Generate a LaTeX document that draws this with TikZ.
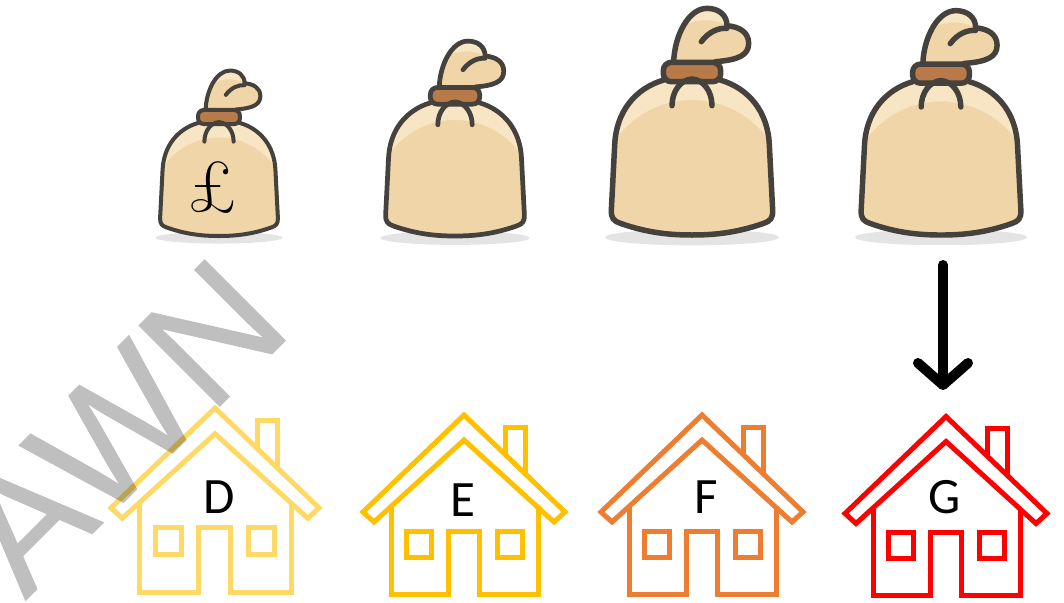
\documentclass[tikz,border=0pt]{standalone}
\usepackage{fontspec}
\setmainfont{Carlito}
\newfontfamily\stampfont[FakeBold=0.6]{Liberation Sans}
\newfontfamily\poundfont{Latin Modern Roman}
\usetikzlibrary{arrows.meta}
\definecolor{bagdark}{HTML}{F0D5A8}
\definecolor{baglight}{HTML}{F7E5C3}
\definecolor{bagedge}{HTML}{45413C}
\definecolor{bagtie}{HTML}{B97A4A}
\definecolor{bagshadow}{HTML}{E4E4E4}
\tikzset{
  bagline/.style={draw=bagedge, line join=round, line cap=round},
  houseline/.style={line width=5pt, line join=miter},
  houselabel/.style={font=\fontsize{51}{51}\selectfont, inner sep=0pt},
}
\newcommand{\moneybag}[3]{
  \begin{scope}[shift={(#1,#2)}, x=#3*0.3333pt, y=#3*0.3333pt, line width=#3*5.5pt]
    \fill[bagshadow] (0,-7) ellipse [x radius=261, y radius=24];
    % body and the pale top of it
    \fill[bagdark] (-85,465) .. controls (-170,440) and (-228,370) .. (-232,270) -- (-242,75)
      .. controls (-243,50) and (-235,42) .. (-215,35) .. controls (-130,5) and (-60,0) .. (0,0)
      .. controls (60,0) and (130,5) .. (215,35) .. controls (235,42) and (243,50) .. (242,75)
      -- (232,270) .. controls (228,370) and (170,440) .. (85,465) -- cycle;
    \fill[baglight] (-85,465) .. controls (-170,440) and (-226,370) .. (-230,285)
      .. controls (-170,370) and (-80,405) .. (0,405) .. controls (80,405) and (170,370) .. (230,285)
      .. controls (226,370) and (170,440) .. (85,465) -- cycle;
    \draw[bagline] (-85,465) .. controls (-170,440) and (-228,370) .. (-232,270) -- (-242,75)
      .. controls (-243,50) and (-235,42) .. (-215,35) .. controls (-130,5) and (-60,0) .. (0,0)
      .. controls (60,0) and (130,5) .. (215,35) .. controls (235,42) and (243,50) .. (242,75)
      -- (232,270) .. controls (228,370) and (170,440) .. (85,465);
    % knot
    \fill[bagdark] (-55,520) .. controls (-52,600) and (-10,680) .. (45,680)
      .. controls (80,680) and (105,660) .. (105,628) .. controls (140,625) and (170,610) .. (170,575)
      .. controls (170,540) and (140,525) .. (70,520) -- cycle;
    \fill[baglight] (-30,625) .. controls (-10,665) and (20,680) .. (45,680)
      .. controls (80,680) and (105,660) .. (105,628) .. controls (70,650) and (10,650) .. (-30,625) -- cycle;
    \draw[bagline] (-55,520) .. controls (-52,600) and (-10,680) .. (45,680)
      .. controls (80,680) and (105,660) .. (105,628) .. controls (140,625) and (170,610) .. (170,575)
      .. controls (170,540) and (140,525) .. (70,520);
    \draw[bagline] (28,580) .. controls (50,610) and (80,622) .. (105,620);
    \draw[bagline, fill=bagtie, rounded corners=#3*8pt] (-86,460) rectangle (86,518);
    \draw[bagline] (-60,388) .. controls (-60,430) and (-35,466) .. (0,468)
      .. controls (35,466) and (60,430) .. (60,388);
  \end{scope}
}
\newcommand{\housemark}[4]{
  \begin{scope}[shift={(#1,#2)}, x=#4*1pt, y=#4*-1pt, draw=#3]
    \draw[houseline] (41,40) -- (41,12) -- (61,12) -- (61,59);
    \draw[houseline] (0,0) -- (-101,97) -- (-90,107) -- (0,25) -- (90,107) -- (101,97) -- cycle;
    \draw[houseline] (-73,91) -- (-73,179) -- (-16,179) -- (-16,116) -- (15,116) -- (15,179) -- (74,179) -- (74,91);
    \draw[houseline] (-58,116) rectangle (-33,142);
    \draw[houseline] (33,116) rectangle (58,142);
  \end{scope}
}
\begin{document}
\begin{tikzpicture}[x=1pt, y=-1pt]
  \useasboundingbox (0,0) rectangle (1064,602);

  \moneybag{219}{236}{0.73}
  \moneybag{455}{236}{0.86}
  \moneybag{692}{235}{1}
  \moneybag{941}{235}{0.99}
  \node[inner sep=0pt, font=\poundfont\fontsize{73}{73}\selectfont] at (213,188) (pound) {£};

  \foreach \xpos/\ypos/\housecolor/\housescale in {215/408/FFD966/1.03, 464/415/FFC000/1, 702/415/ED7D31/1, 946/416.5/FF0000/1} {
    \definecolor{housecol}{HTML}{\housecolor}
    \housemark{\xpos}{\ypos}{housecol}{\housescale}
  }
  \node[houselabel] at (219,497) (labelD) {D};
  \node[houselabel] at (463,500) (labelE) {E};
  \node[houselabel] at (706,497) (labelF) {F};
  \node[houselabel] at (945,497) (labelG) {G};

  \coordinate (arrowstart) at (943,265);
  \coordinate (arrowend) at (943,390);
  \draw[line width=10pt, line cap=round, -{Straight Barb[length=22pt, width=50pt, round]}] (arrowstart) -- (arrowend);

  \begin{scope}[transparency group, opacity=0.25]
    \node[anchor=base east, rotate=45, inner sep=0pt, text=black, font=\stampfont\fontsize{166}{166}\selectfont] at (295,331) (stamp) {AWN};
  \end{scope}
\end{tikzpicture}
\end{document}
